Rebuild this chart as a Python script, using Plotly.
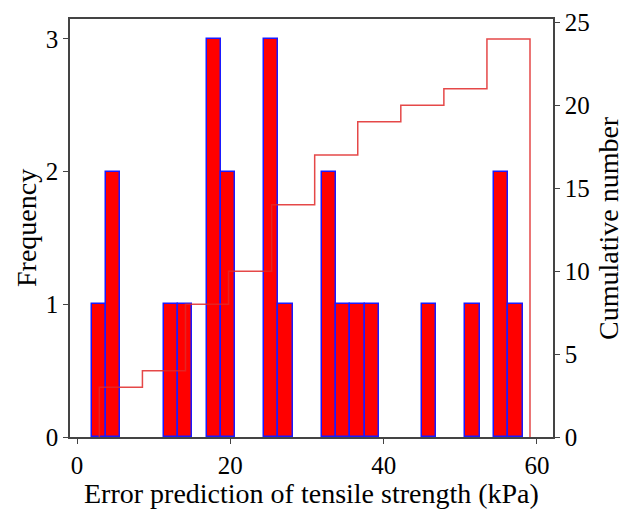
import numpy as np
import plotly.graph_objects as go

# Histogram (frequency) data: 30 equal bins
bin_low = 1.92
bin_high = 58.13
freq_counts = [1, 2, 0, 0, 0, 1, 1, 0, 3, 2,
               0, 0, 3, 1, 0, 0, 2, 1, 1, 1,
               0, 0, 0, 1, 0, 0, 1, 0, 2, 1]

# Cumulative step data: 10 equal bins
cum_low = 2.91
cum_high = 59.09
cum_counts = [3, 4, 8, 10, 14, 17, 19, 20, 21, 24]

x_ticks = [0, 20, 40, 60]
y_ticks = [0, 1, 2, 3]
y2_ticks = [0, 5, 10, 15, 20, 25]

x_title = "Error prediction of tensile strength (kPa)"
y_title = "Frequency"
y2_title = "Cumulative number"

FONT = "Liberation Serif"

edges = np.linspace(bin_low, bin_high, len(freq_counts) + 1)
centers = (edges[:-1] + edges[1:]) / 2
width = edges[1] - edges[0]
nz = [i for i, c in enumerate(freq_counts) if c > 0]
bar_x = [centers[i] for i in nz]
bar_y = [freq_counts[i] for i in nz]

cedges = np.linspace(cum_low, cum_high, len(cum_counts) + 1)
px, py = [cedges[0]], [0]
for i, c in enumerate(cum_counts):
    px += [cedges[i], cedges[i + 1]]
    py += [c, c]
px.append(cedges[-1])
py.append(0)

fig = go.Figure()
fig.add_trace(go.Bar(
    x=bar_x, y=bar_y, width=width,
    marker=dict(color="#ff0000", line=dict(color="#1a1aff", width=1.5)),
    showlegend=False,
))
fig.add_trace(go.Scatter(
    x=px, y=py, mode="lines", yaxis="y2",
    line=dict(color="rgba(225,40,40,0.85)", width=1.5),
    showlegend=False,
))

axis_common = dict(
    showgrid=False, zeroline=False, showline=True, linecolor="#444444",
    linewidth=1.5, ticks="outside", ticklen=5, tickwidth=1.2, tickcolor="#444444",
    tickfont=dict(family=FONT, size=25, color="black"), automargin=False,
    ticklabeloverflow="allow",
)

W, H = 624, 504
L, R, T, B = 62, 79, 11, 75

fig.update_layout(
    width=W, height=H,
    margin=dict(l=L, r=R, t=T, b=B),
    plot_bgcolor="white", paper_bgcolor="white",
    bargap=0,
    xaxis=dict(range=[-0.92, 62.09], tickvals=x_ticks, mirror=True, **axis_common),
    yaxis=dict(range=[0, 3.15], tickvals=y_ticks, **axis_common),
    yaxis2=dict(range=[0, 25.2], tickvals=y2_ticks, overlaying="y", side="right", **axis_common),
    annotations=[
        dict(text=x_title, xref="paper", yref="paper", x=0.5, y=-(486 - (H - B)) / (H - T - B),
             xanchor="center", yanchor="middle", showarrow=False,
             font=dict(family=FONT, size=28, color="black")),
        dict(text=y_title, xref="paper", yref="paper", x=-(L - 18) / (W - L - R), y=0.5,
             xanchor="center", yanchor="middle", showarrow=False, textangle=-90,
             font=dict(family=FONT, size=28, color="black")),
        dict(text=y2_title, xref="paper", yref="paper", x=1 + (600 - (W - R)) / (W - L - R), y=0.5,
             xanchor="center", yanchor="middle", showarrow=False, textangle=-90,
             font=dict(family=FONT, size=28, color="black")),
    ],
)

fig.write_html("out.html")
